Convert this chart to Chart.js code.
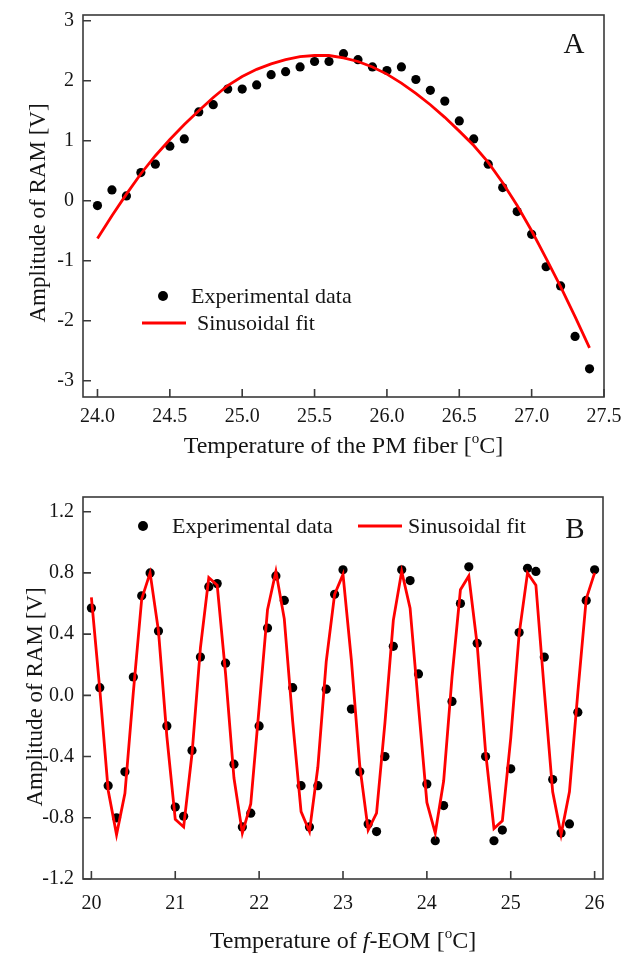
<!DOCTYPE html>
<html><head><meta charset="utf-8">
<script src="https://cdn.jsdelivr.net/npm/chart.js@4"></script>
<style>
html,body{margin:0;padding:0;background:#fff;}
.box{width:622px;height:477px;position:relative;}
canvas{display:block;}
</style></head><body>
<div class="box"><canvas id="cA" width="622" height="477"></canvas></div>
<div class="box"><canvas id="cB" width="622" height="477"></canvas></div>
<script>
// ---------- Panel A data ----------
const tempA = [24.0,24.1,24.2,24.3,24.4,24.5,24.6,24.7,24.8,24.9,25.0,25.1,25.2,25.3,25.4,25.5,25.6,25.7,25.8,25.9,26.0,26.1,26.2,26.3,26.4,26.5,26.6,26.7,26.8,26.9,27.0,27.1,27.2,27.3,27.4];
const ramA  = [-0.08,0.18,0.08,0.47,0.61,0.91,1.03,1.48,1.60,1.86,1.86,1.93,2.10,2.15,2.23,2.32,2.32,2.45,2.35,2.23,2.17,2.23,2.02,1.84,1.66,1.33,1.03,0.61,0.22,-0.18,-0.56,-1.10,-1.42,-2.26,-2.80];
const fitA  = [-0.63,-0.25,0.11,0.45,0.75,1.02,1.27,1.50,1.72,1.92,2.07,2.19,2.28,2.35,2.40,2.42,2.42,2.38,2.32,2.23,2.11,1.96,1.79,1.60,1.39,1.16,0.92,0.64,0.30,-0.08,-0.50,-0.96,-1.43,-1.93,-2.45];
const xTicksA = [24.0,24.5,25.0,25.5,26.0,26.5,27.0,27.5];
const xTickLabelsA = ["24.0","24.5","25.0","25.5","26.0","26.5","27.0","27.5"];
const yTicksA = [-3,-2,-1,0,1,2,3];
const yTickLabelsA = ["-3","-2","-1","0","1","2","3"];

// ---------- Panel B data ----------
const tempB = [20.0,20.1,20.2,20.3,20.4,20.5,20.6,20.7,20.8,20.9,21.0,21.1,21.2,21.3,21.4,21.5,21.6,21.7,21.8,21.9,22.0,22.1,22.2,22.3,22.4,22.5,22.6,22.7,22.8,22.9,23.0,23.1,23.2,23.3,23.4,23.5,23.6,23.7,23.8,23.9,24.0,24.1,24.2,24.3,24.4,24.5,24.6,24.7,24.8,24.9,25.0,25.1,25.2,25.3,25.4,25.5,25.6,25.7,25.8,25.9,26.0];
const ramB  = [0.57,0.05,-0.59,-0.80,-0.50,0.12,0.65,0.80,0.42,-0.20,-0.73,-0.79,-0.36,0.25,0.71,0.73,0.21,-0.45,-0.86,-0.77,-0.20,0.44,0.78,0.62,0.05,-0.59,-0.86,-0.59,0.04,0.66,0.82,-0.09,-0.50,-0.84,-0.89,-0.40,0.32,0.82,0.75,0.14,-0.58,-0.95,-0.72,-0.04,0.60,0.84,0.34,-0.40,-0.95,-0.88,-0.48,0.41,0.83,0.81,0.25,-0.55,-0.90,-0.84,-0.11,0.62,0.82];
const fitB  = [0.64,0.04,-0.62,-0.91,-0.64,0.02,0.63,0.80,0.42,-0.27,-0.81,-0.86,-0.38,0.31,0.77,0.72,0.14,-0.54,-0.90,-0.71,-0.08,0.56,0.81,0.50,-0.17,-0.76,-0.89,-0.47,0.22,0.66,0.79,0.23,-0.46,-0.88,-0.77,-0.18,0.49,0.81,0.57,-0.07,-0.70,-0.90,-0.56,0.12,0.69,0.78,0.33,-0.37,-0.87,-0.82,-0.28,0.40,0.80,0.72,0.03,-0.63,-0.91,-0.63,0.02,0.63,0.80];
const xTicksB = [20,21,22,23,24,25,26];
const xTickLabelsB = ["20","21","22","23","24","25","26"];
const yTicksB = [-1.2,-0.8,-0.4,0.0,0.4,0.8,1.2];
const yTickLabelsB = ["-1.2","-0.8","-0.4","0.0","0.4","0.8","1.2"];

const seriesNames = ["Experimental data","Sinusoidal fit"];
const axisTitleY = "Amplitude of RAM [V]";

const SERIF = "'Liberation Serif', 'Times New Roman', serif";
const INK = '#151515';
const FRAME = '#3a3a3a';
const RED = '#ff0000';
Chart.defaults.font.family = SERIF;
Chart.defaults.color = INK;

function richText(ctx, segs, cx, baseY, size) {
  const fontFor = s => (s.italic ? 'italic ' : '') + (s.sup ? Math.round(size*0.62) : size) + 'px ' + SERIF;
  let total = 0;
  segs.forEach(s => { ctx.font = fontFor(s); s.w = ctx.measureText(s.t).width; total += s.w; });
  let x = cx - total/2;
  ctx.textAlign = 'left'; ctx.textBaseline = 'alphabetic';
  segs.forEach(s => {
    ctx.font = fontFor(s);
    ctx.fillText(s.t, x, s.sup ? baseY - size*0.42 : baseY);
    x += s.w;
  });
}

const decorPlugin = {
  id: 'decor',
  afterDraw(chart) {
    const o = chart.options.plugins.decor;
    const ctx = chart.ctx, a = chart.chartArea;
    const xs = chart.scales.x, ys = chart.scales.y;
    ctx.save();
    // frame + inward ticks
    ctx.strokeStyle = FRAME; ctx.lineWidth = 1.6;
    ctx.strokeRect(a.left, a.top, a.right - a.left, a.bottom - a.top);
    ctx.beginPath();
    xs.ticks.forEach(t => { const px = xs.getPixelForValue(t.value); ctx.moveTo(px, a.bottom); ctx.lineTo(px, a.bottom - 8); });
    ys.ticks.forEach(t => { const py = ys.getPixelForValue(t.value); ctx.moveTo(a.left, py); ctx.lineTo(a.left + 8, py); });
    ctx.stroke();
    ctx.fillStyle = INK;
    // x title
    richText(ctx, o.xTitle, (a.left + a.right)/2, o.xTitleY, 24);
    // y title
    ctx.save();
    ctx.translate(o.yTitleX, o.yTitleY);
    ctx.rotate(-Math.PI/2);
    ctx.font = '23px ' + SERIF;
    ctx.textAlign = 'center'; ctx.textBaseline = 'middle';
    ctx.fillText(axisTitleY, 0, 0);
    ctx.restore();
    // panel letter
    ctx.font = '29px ' + SERIF;
    ctx.textAlign = 'center'; ctx.textBaseline = 'middle';
    ctx.fillText(o.letter, o.letterX, o.letterY);
    // legend
    const L = o.legend;
    ctx.font = '22px ' + SERIF;
    ctx.textAlign = 'left'; ctx.textBaseline = 'middle';
    ctx.fillStyle = '#000';
    ctx.beginPath(); ctx.arc(L.px, L.py, 5, 0, Math.PI*2); ctx.fill();
    ctx.fillStyle = INK;
    ctx.fillText(seriesNames[0], L.ptx, L.py + 1);
    ctx.strokeStyle = RED; ctx.lineWidth = 3;
    ctx.beginPath(); ctx.moveTo(L.lx1, L.ly); ctx.lineTo(L.lx2, L.ly); ctx.stroke();
    ctx.fillText(seriesNames[1], L.ltx, L.ly + 1);
    ctx.restore();
  }
};

function build(id, d) {
  const pts = d.xs.map((x, i) => ({x: x, y: d.ys[i]}));
  const fit = d.xs.map((x, i) => ({x: x, y: d.fit[i]}));
  return new Chart(document.getElementById(id), {
    type: 'scatter',
    data: { datasets: [
      { label: seriesNames[1], data: fit, showLine: true, borderColor: RED, borderWidth: 2.8,
        pointRadius: 0, pointHoverRadius: 0, tension: 0, fill: false, order: 0 },
      { label: seriesNames[0], data: pts, showLine: false, pointRadius: 4.6, pointBorderWidth: 0,
        backgroundColor: '#000', borderColor: '#000', order: 1 }
    ]},
    options: {
      responsive: false, animation: false, events: [],
      layout: { padding: d.pad },
      plugins: { legend: { display: false }, tooltip: { enabled: false }, decor: d.decor },
      scales: {
        x: { type: 'linear', min: d.xmin, max: d.xmax,
          grid: { display: false }, border: { display: false },
          afterBuildTicks: s => { s.ticks = d.xt.map(v => ({value: v})); },
          afterFit: s => { s.height = d.xh; },
          ticks: { padding: d.xpad, font: { size: 20 }, color: INK, maxRotation: 0, autoSkip: false,
            callback: (v, i) => d.xl[i] } },
        y: { type: 'linear', min: d.ymin, max: d.ymax,
          grid: { display: false }, border: { display: false },
          afterBuildTicks: s => { s.ticks = d.yt.map(v => ({value: v})); },
          afterFit: s => { s.width = 83; },
          ticks: { padding: 1, font: { size: 20 }, color: INK, autoSkip: false,
            callback: (v, i) => d.yl[i] } }
      }
    },
    plugins: [decorPlugin]
  });
}

build('cA', {
  xs: tempA, ys: ramA, fit: fitA, xt: xTicksA, xl: xTickLabelsA, yt: yTicksA, yl: yTickLabelsA,
  xmin: 23.9, xmax: 27.5, ymin: -3.27, ymax: 3.095,
  pad: { left: 0, right: 18, top: 15, bottom: 0 }, xh: 80, xpad: 0,
  decor: {
    xTitle: [{t: 'Temperature of the PM fiber ['}, {t: 'o', sup: true}, {t: 'C]'}], xTitleY: 453,
    yTitleX: 39, yTitleY: 213, letter: 'A', letterX: 574, letterY: 45,
    legend: { px: 163, py: 296, ptx: 191, lx1: 142, lx2: 186, ly: 323, ltx: 197 }
  }
});

build('cB', {
  xs: tempB, ys: ramB, fit: fitB, xt: xTicksB, xl: xTickLabelsB, yt: yTicksB, yl: yTickLabelsB,
  xmin: 19.9, xmax: 26.1, ymin: -1.2, ymax: 1.296,
  pad: { left: 0, right: 19, top: 20, bottom: 0 }, xh: 75, xpad: 5,
  decor: {
    xTitle: [{t: 'Temperature of '}, {t: 'f', italic: true}, {t: '-EOM ['}, {t: 'o', sup: true}, {t: 'C]'}], xTitleY: 471,
    yTitleX: 36, yTitleY: 220, letter: 'B', letterX: 575, letterY: 53,
    legend: { px: 143, py: 49, ptx: 172, lx1: 358, lx2: 402, ly: 49, ltx: 408 }
  }
});
</script>
</body></html>
